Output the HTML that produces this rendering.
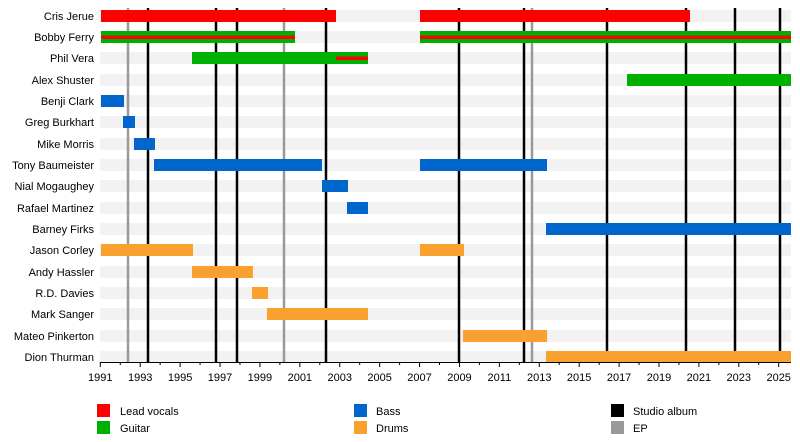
<!DOCTYPE html>
<html><head><meta charset="utf-8"><style>
html,body{margin:0;padding:0;background:#fff;}
svg{display:block;font-family:"Liberation Sans",sans-serif;}
</style></head><body>
<svg width="800" height="442" viewBox="0 0 800 442" xmlns="http://www.w3.org/2000/svg">
<g fill="#f2f2f2">
<rect x="100" y="10" width="691" height="12"/>
<rect x="100" y="31" width="691" height="12"/>
<rect x="100" y="52" width="691" height="12"/>
<rect x="100" y="74" width="691" height="12"/>
<rect x="100" y="95" width="691" height="12"/>
<rect x="100" y="116" width="691" height="12"/>
<rect x="100" y="138" width="691" height="12"/>
<rect x="100" y="159" width="691" height="12"/>
<rect x="100" y="180" width="691" height="12"/>
<rect x="100" y="202" width="691" height="12"/>
<rect x="100" y="223" width="691" height="12"/>
<rect x="100" y="244" width="691" height="12"/>
<rect x="100" y="266" width="691" height="12"/>
<rect x="100" y="287" width="691" height="12"/>
<rect x="100" y="308" width="691" height="12"/>
<rect x="100" y="330" width="691" height="12"/>
<rect x="100" y="351" width="691" height="12"/>
</g>
<g stroke="#999" stroke-width="2.5">
<line x1="128" y1="8" x2="128" y2="362"/><line x1="284" y1="8" x2="284" y2="362"/><line x1="532" y1="8" x2="532" y2="362"/>
</g>
<g stroke="#000" stroke-width="2.5">
<line x1="148" y1="8" x2="148" y2="362"/><line x1="216" y1="8" x2="216" y2="362"/><line x1="237" y1="8" x2="237" y2="362"/>
<line x1="326" y1="8" x2="326" y2="362"/><line x1="459" y1="8" x2="459" y2="362"/><line x1="524" y1="8" x2="524" y2="362"/>
<line x1="607" y1="8" x2="607" y2="362"/><line x1="686" y1="8" x2="686" y2="362"/><line x1="735" y1="8" x2="735" y2="362"/><line x1="780" y1="8" x2="780" y2="362"/>
</g>
<g fill="#ff0000"><rect x="101" y="10" width="235" height="12"/><rect x="420" y="10" width="270" height="12"/></g>
<g fill="#00b000">
<rect x="101" y="31" width="194" height="12"/><rect x="420" y="31" width="371" height="12"/>
<rect x="192" y="52" width="176" height="12"/><rect x="627" y="74" width="164" height="12"/>
</g>
<g fill="#ff0000"><rect x="101" y="35.5" width="194" height="3.5"/><rect x="420" y="35.5" width="371" height="3.5"/><rect x="336" y="56.5" width="32" height="3.5"/></g>
<g fill="#0066cc">
<rect x="101" y="95" width="23" height="12"/><rect x="123" y="116" width="12" height="12"/><rect x="134" y="138" width="21" height="12"/>
<rect x="154" y="159" width="168" height="12"/><rect x="420" y="159" width="127" height="12"/>
<rect x="322" y="180" width="26" height="12"/><rect x="347" y="202" width="21" height="12"/><rect x="546" y="223" width="245" height="12"/>
</g>
<g fill="#f9a12e">
<rect x="101" y="244" width="92" height="12"/><rect x="420" y="244" width="44" height="12"/>
<rect x="192" y="266" width="61" height="12"/><rect x="252" y="287" width="16" height="12"/>
<rect x="267" y="308" width="101" height="12"/><rect x="463" y="330" width="84" height="12"/><rect x="546" y="351" width="245" height="12"/>
</g>
<g font-size="11" fill="#000" text-anchor="end">
<text x="94" y="20">Cris Jerue</text><text x="94" y="41">Bobby Ferry</text><text x="94" y="62">Phil Vera</text>
<text x="94" y="84">Alex Shuster</text><text x="94" y="105">Benji Clark</text><text x="94" y="126">Greg Burkhart</text>
<text x="94" y="148">Mike Morris</text><text x="94" y="169">Tony Baumeister</text><text x="94" y="190">Nial Mogaughey</text>
<text x="94" y="212">Rafael Martinez</text><text x="94" y="233">Barney Firks</text><text x="94" y="254">Jason Corley</text>
<text x="94" y="276">Andy Hassler</text><text x="94" y="297">R.D. Davies</text><text x="94" y="318">Mark Sanger</text>
<text x="94" y="340">Mateo Pinkerton</text><text x="94" y="361">Dion Thurman</text>
</g>
<line x1="100" y1="362.5" x2="791" y2="362.5" stroke="#000" stroke-width="1"/>
<g stroke="#000" stroke-width="1" id="ticks"></g>
<g font-size="11" text-anchor="middle" id="labels"></g>
<g font-size="11">
<rect x="97" y="404" width="13" height="13" fill="#ff0000"/><text x="120" y="415">Lead vocals</text>
<rect x="97" y="421" width="13" height="13" fill="#00b000"/><text x="120" y="432">Guitar</text>
<rect x="354" y="404" width="13" height="13" fill="#0066cc"/><text x="376" y="415">Bass</text>
<rect x="354" y="421" width="13" height="13" fill="#f9a12e"/><text x="376" y="432">Drums</text>
<rect x="611" y="404" width="13" height="13" fill="#000"/><text x="633" y="415">Studio album</text>
<rect x="611" y="421" width="13" height="13" fill="#999"/><text x="633" y="432">EP</text>
</g>
<script>
(function(){var ns="http://www.w3.org/2000/svg",t=document.getElementById("ticks"),l=document.getElementById("labels");
for(var y=1991;y<=2025;y++){var x=100.3+(y-1991)*19.953;var major=(y-1991)%2==0;
var e=document.createElementNS(ns,"line");e.setAttribute("x1",x);e.setAttribute("x2",x);e.setAttribute("y1",362);e.setAttribute("y2",major?367:365);t.appendChild(e);
if(major){var s=document.createElementNS(ns,"text");s.setAttribute("x",x);s.setAttribute("y",381);s.textContent=y;l.appendChild(s);}}})();
</script>
</svg>
</body></html>
